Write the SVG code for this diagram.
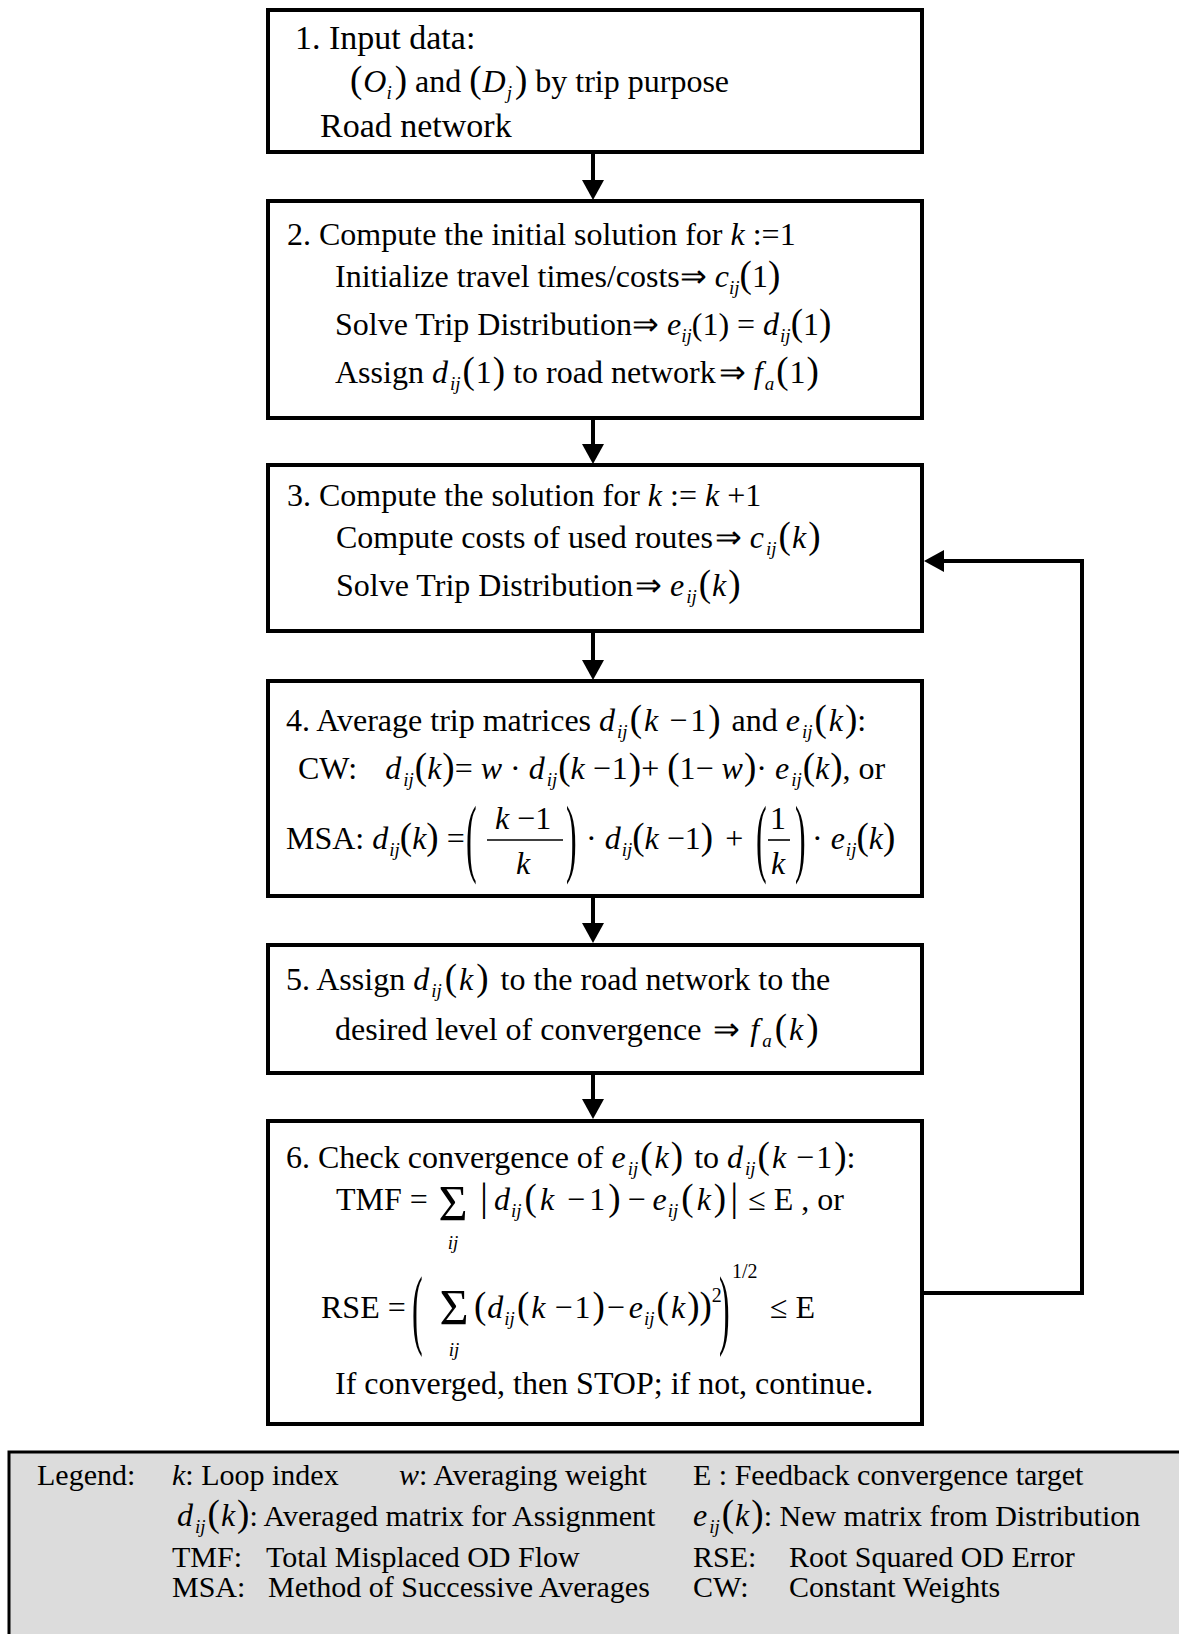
<svg xmlns="http://www.w3.org/2000/svg" width="1179" height="1634" viewBox="0 0 1179 1634">
<defs>
<style>
text { font-family: "Liberation Serif", "Times New Roman", serif; font-size: 32px; fill: #000; }
.i { font-style: italic; }
.sb { font-size: 19px; font-style: italic; }
.bp { font-size: 37px; }
.bar { font-size: 40px; }
.sig { font-size: 50px; }
.box { fill: #fff; stroke: #000; stroke-width: 4; }
.conn { fill: none; stroke: #000; stroke-width: 4; }
.fr { stroke: #000; stroke-width: 1.6; }
.lg { font-size: 30px; }
.sup { font-size: 20px; }
</style>
<marker id="ah" markerUnits="userSpaceOnUse" markerWidth="22" markerHeight="22" refX="0" refY="11" orient="auto" viewBox="0 0 22 22"><path d="M0,0 L20,11 L0,22 Z" fill="#000"/></marker>
</defs>
<rect x="0" y="0" width="1179" height="1634" fill="#fff"/>

<g id="connectors">
<line class="conn" x1="593" y1="152" x2="593" y2="180" marker-end="url(#ah)"/>
<line class="conn" x1="593" y1="418" x2="593" y2="444" marker-end="url(#ah)"/>
<line class="conn" x1="593" y1="631" x2="593" y2="660" marker-end="url(#ah)"/>
<line class="conn" x1="593" y1="896" x2="593" y2="923" marker-end="url(#ah)"/>
<line class="conn" x1="593" y1="1073" x2="593" y2="1099" marker-end="url(#ah)"/>
<polyline class="conn" points="922,1293 1082,1293 1082,561 944,561" marker-end="url(#ah)"/>
</g>

<g id="node1">
<rect class="box" x="268" y="10" width="654" height="142"/>
<text x="295" y="49" style="font-size:34px">1. Input data:</text>
<text x="350" y="92"><tspan class="bp">(</tspan><tspan class="i" dx="1">O</tspan><tspan class="sb" dy="7">i</tspan><tspan class="bp" dy="-7" dx="3">)</tspan> and <tspan class="bp">(</tspan><tspan class="i" dx="1">D</tspan><tspan class="sb" dy="7" dx="1">j</tspan><tspan class="bp" dy="-7" dx="3">)</tspan> by trip purpose</text>
<text x="320" y="137" style="font-size:34px">Road network</text>
</g>

<g id="node2">
<rect class="box" x="268" y="201" width="654" height="217"/>
<text x="287" y="245">2. Compute the initial solution for <tspan class="i">k</tspan> :=1</text>
<text x="335" y="287">Initialize travel times/costs⇒ <tspan class="i">c</tspan><tspan class="sb" dy="7">ij</tspan><tspan class="bp" dy="-7">(</tspan>1<tspan class="bp">)</tspan></text>
<text x="335" y="335">Solve Trip Distribution⇒ <tspan class="i">e</tspan><tspan class="sb" dy="7">ij</tspan><tspan dy="-7">(1) = </tspan><tspan class="i">d</tspan><tspan class="sb" dy="7" dx="1">ij</tspan><tspan class="bp" dy="-7">(</tspan>1<tspan class="bp">)</tspan></text>
<text x="335" y="383">Assign <tspan class="i">d</tspan><tspan class="sb" dy="7" dx="2">ij</tspan><tspan class="bp" dy="-7" dx="2">(</tspan><tspan dx="1">1</tspan><tspan class="bp" dx="1">)</tspan> to road network<tspan dx="3">⇒</tspan> <tspan class="i">f</tspan><tspan class="sb" dy="7" dx="2">a</tspan><tspan class="bp" dy="-7" dx="2">(</tspan><tspan dx="1">1</tspan><tspan class="bp" dx="1">)</tspan></text>
</g>

<g id="node3">
<rect class="box" x="268" y="465" width="654" height="166"/>
<text x="287" y="506">3. Compute the solution for <tspan class="i">k</tspan> := <tspan class="i">k</tspan> +1</text>
<text x="336" y="548">Compute costs of used routes<tspan dx="2">⇒</tspan> <tspan class="i">c</tspan><tspan class="sb" dy="7" dx="2">ij</tspan><tspan class="bp" dy="-7" dx="2">(</tspan><tspan class="i" dx="1">k</tspan><tspan class="bp" dx="2">)</tspan></text>
<text x="336" y="596">Solve Trip Distribution<tspan dx="2">⇒</tspan> <tspan class="i">e</tspan><tspan class="sb" dy="7" dx="2">ij</tspan><tspan class="bp" dy="-7" dx="2">(</tspan><tspan class="i" dx="1">k</tspan><tspan class="bp" dx="2">)</tspan></text>
</g>

<g id="node4">
<rect class="box" x="268" y="681" width="654" height="215"/>
<text x="286" y="731">4. Average trip matrices <tspan class="i">d</tspan><tspan class="sb" dy="7" dx="2">ij</tspan><tspan class="bp" dy="-7" dx="2">(</tspan><tspan class="i" dx="2">k</tspan> <tspan dx="3">−</tspan><tspan dx="3">1</tspan><tspan class="bp" dx="2">)</tspan><tspan dx="3"> and </tspan><tspan class="i">e</tspan><tspan class="sb" dy="7" dx="2">ij</tspan><tspan class="bp" dy="-7" dx="2">(</tspan><tspan class="i" dx="2">k</tspan><tspan class="bp" dx="2">)</tspan>:</text>
<text x="298" y="779">CW:<tspan class="i" dx="28">d</tspan><tspan class="sb" dy="7" dx="2">ij</tspan><tspan class="bp" dy="-7" dx="1">(</tspan><tspan class="i">k</tspan><tspan class="bp" dx="1">)</tspan>= <tspan class="i">w</tspan> · <tspan class="i">d</tspan><tspan class="sb" dy="7" dx="2">ij</tspan><tspan class="bp" dy="-7" dx="1">(</tspan><tspan class="i">k</tspan> −<tspan dx="1">1</tspan><tspan class="bp" dx="1">)</tspan>+ <tspan class="bp">(</tspan>1− <tspan class="i">w</tspan><tspan class="bp" dx="1">)</tspan>· <tspan class="i">e</tspan><tspan class="sb" dy="7" dx="2">ij</tspan><tspan class="bp" dy="-7" dx="1">(</tspan><tspan class="i">k</tspan><tspan class="bp" dx="1">)</tspan>, or</text>
<text x="286" y="849">MSA: <tspan class="i">d</tspan><tspan class="sb" dy="7" dx="1">ij</tspan><tspan class="bp" dy="-7">(</tspan><tspan class="i">k</tspan><tspan class="bp">)</tspan> =</text>
<text transform="translate(466,866) scale(1,2.7)">(</text>
<text x="523" y="829" text-anchor="middle"><tspan class="i">k</tspan> −1</text>
<line class="fr" x1="487" y1="840" x2="563" y2="840"/>
<text x="523" y="874" text-anchor="middle" class="i">k</text>
<text transform="translate(566,866) scale(1,2.7)">)</text>
<text x="586" y="849">· <tspan class="i">d</tspan><tspan class="sb" dy="7" dx="1">ij</tspan><tspan class="bp" dy="-7">(</tspan><tspan class="i">k</tspan> −1<tspan class="bp">)</tspan><tspan dx="12">+</tspan></text>
<text transform="translate(756,866) scale(1,2.7)">(</text>
<text x="778" y="829" text-anchor="middle">1</text>
<line class="fr" x1="768" y1="840" x2="790" y2="840"/>
<text x="778" y="874" text-anchor="middle" class="i">k</text>
<text transform="translate(795,866) scale(1,2.7)">)</text>
<text x="812" y="849">· <tspan class="i">e</tspan><tspan class="sb" dy="7" dx="1">ij</tspan><tspan class="bp" dy="-7">(</tspan><tspan class="i">k</tspan><tspan class="bp">)</tspan></text>
</g>

<g id="node5">
<rect class="box" x="268" y="945" width="654" height="128"/>
<text x="286" y="990">5. Assign <tspan class="i">d</tspan><tspan class="sb" dy="7" dx="2">ij</tspan><tspan class="bp" dy="-7" dx="3">(</tspan><tspan class="i" dx="2">k</tspan><tspan class="bp" dx="3">)</tspan><tspan dx="4"> to the road network to the</tspan></text>
<text x="335" y="1040">desired level of convergence <tspan dx="4">⇒</tspan> <tspan class="i" dx="2">f</tspan><tspan class="sb" dy="7" dx="3">a</tspan><tspan class="bp" dy="-7" dx="3">(</tspan><tspan class="i" dx="2">k</tspan><tspan class="bp" dx="3">)</tspan></text>
</g>

<g id="node6">
<rect class="box" x="268" y="1121" width="654" height="303"/>
<text x="286" y="1168">6. Check convergence of <tspan class="i">e</tspan><tspan class="sb" dy="7" dx="2">ij</tspan><tspan class="bp" dy="-7" dx="2">(</tspan><tspan class="i" dx="2">k</tspan><tspan class="bp" dx="2">)</tspan><tspan dx="3"> to </tspan><tspan class="i">d</tspan><tspan class="sb" dy="7" dx="2">ij</tspan><tspan class="bp" dy="-7" dx="2">(</tspan><tspan class="i" dx="2">k</tspan> <tspan dx="2">−</tspan><tspan dx="2">1</tspan><tspan class="bp" dx="2">)</tspan>:</text>
<text x="336" y="1210">TMF =</text>
<text x="453" y="1220" text-anchor="middle" class="sig">Σ</text>
<text x="453" y="1249" text-anchor="middle" class="sb">ij</text>
<text x="480" y="1210"><tspan class="bar">|</tspan><tspan class="i" dx="6">d</tspan><tspan class="sb" dy="7" dx="1">ij</tspan><tspan class="bp" dy="-7" dx="3">(</tspan><tspan class="i" dx="3">k</tspan><tspan dx="5"> −</tspan><tspan dx="4">1</tspan><tspan class="bp" dx="3">)</tspan><tspan dx="7">−</tspan><tspan class="i" dx="7">e</tspan><tspan class="sb" dy="7" dx="1">ij</tspan><tspan class="bp" dy="-7" dx="3">(</tspan><tspan class="i" dx="3">k</tspan><tspan class="bp" dx="3">)</tspan><tspan class="bar" dx="4">|</tspan><tspan dx="2"> ≤ E , or</tspan></text>
<text x="321" y="1318">RSE =</text>
<text transform="translate(412,1338) scale(1,2.75)">(</text>
<text x="454" y="1324" text-anchor="middle" class="sig">Σ</text>
<text x="454" y="1356" text-anchor="middle" class="sb">ij</text>
<text x="474" y="1318"><tspan class="bp">(</tspan><tspan class="i" dx="1">d</tspan><tspan class="sb" dy="7" dx="1">ij</tspan><tspan class="bp" dy="-7" dx="2">(</tspan><tspan class="i" dx="2">k</tspan> <tspan dx="1">−</tspan><tspan dx="2">1</tspan><tspan class="bp" dx="2">)</tspan><tspan dx="2">−</tspan><tspan class="i" dx="4">e</tspan><tspan class="sb" dy="7" dx="1">ij</tspan><tspan class="bp" dy="-7" dx="2">(</tspan><tspan class="i" dx="2">k</tspan><tspan class="bp" dx="2">)</tspan><tspan class="bp">)</tspan><tspan class="sup" dy="-16">2</tspan></text>
<text transform="translate(719,1338) scale(1,2.75)">)</text>
<text x="732" y="1278" class="sup">1/2</text>
<text x="770" y="1318">≤ E</text>
<text x="335" y="1394">If converged, then STOP; if not, continue.</text>
</g>

<g id="legend">
<rect x="9" y="1452" width="1200" height="200" fill="#dcdcdc" stroke="#000" stroke-width="3"/>
<text x="37" y="1485" class="lg">Legend:</text>
<text x="172" y="1485" class="lg"><tspan class="i">k</tspan>: Loop index</text>
<text x="399" y="1485" class="lg"><tspan class="i">w</tspan>: Averaging weight</text>
<text x="693" y="1485" class="lg">E : Feedback convergence target</text>
<text x="177" y="1526"><tspan class="i">d</tspan><tspan class="sb" dy="7" dx="2">ij</tspan><tspan class="bp" dy="-7" dx="2">(</tspan><tspan class="i" dx="1">k</tspan><tspan class="bp" dx="2">)</tspan><tspan class="lg">: Averaged matrix for Assignment</tspan></text>
<text x="693" y="1526"><tspan class="i">e</tspan><tspan class="sb" dy="7" dx="2">ij</tspan><tspan class="bp" dy="-7" dx="2">(</tspan><tspan class="i" dx="1">k</tspan><tspan class="bp" dx="2">)</tspan><tspan class="lg">: New matrix from Distribution</tspan></text>
<text x="172" y="1567" class="lg">TMF:</text>
<text x="266" y="1567" class="lg">Total Misplaced OD Flow</text>
<text x="693" y="1567" class="lg">RSE:</text>
<text x="789" y="1567" class="lg">Root Squared OD Error</text>
<text x="172" y="1597" class="lg">MSA:</text>
<text x="268" y="1597" class="lg">Method of Successive Averages</text>
<text x="693" y="1597" class="lg">CW:</text>
<text x="789" y="1597" class="lg">Constant Weights</text>
</g>
</svg>
